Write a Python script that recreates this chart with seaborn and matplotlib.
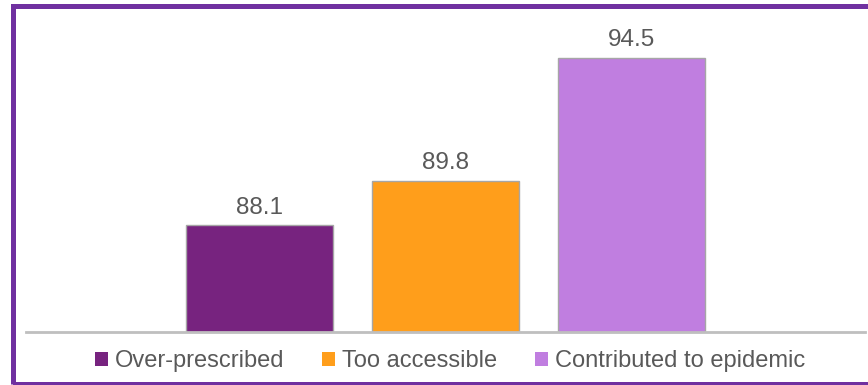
import matplotlib
matplotlib.use("Agg")
import matplotlib.pyplot as plt
import seaborn as sns
import pandas as pd
from matplotlib.patches import Rectangle, Patch

categories = ["Over-prescribed", "Too accessible", "Contributed to epidemic"]
values = [88.1, 89.8, 94.5]
colors = ["#77237F", "#FF9E1B", "#C07EE0"]

sns.set_theme(style="white")
plt.rcParams['font.family'] = ['Liberation Sans', 'DejaVu Sans']

W, H = 868, 385
fig = plt.figure(figsize=(W / 100, H / 100), dpi=100)
ax = fig.add_axes([26 / W, 1 - 332.3 / H, (865 - 26) / W, (332.3 - 18.5) / H])

df = pd.DataFrame({"cat": categories, "val": values})
sns.barplot(data=df, x="cat", y="val", hue="cat", palette=colors, ax=ax,
            width=0.79, edgecolor="#A6A6A6", linewidth=1, legend=False,
            saturation=1)

ax.set_ylim(84, 96)
ax.set_xlim(-1.255, 3.255)
ax.set_xlabel("")
ax.set_ylabel("")
ax.set_xticks([])
ax.set_yticks([])
for s in ["left", "right", "top"]:
    ax.spines[s].set_visible(False)
ax.spines["bottom"].set_color("#BFBFBF")
ax.spines["bottom"].set_linewidth(2)
ax.patch.set_alpha(0)

for i, v in enumerate(values):
    ax.annotate(f"{v}", (i, v), xytext=(0, 4.5), textcoords="offset points",
                ha="center", va="bottom", fontsize=17.5, color="#595959")

handles = [Patch(facecolor=c, edgecolor="none") for c in colors]
fig.legend(handles, categories, loc="center", bbox_to_anchor=(450 / W, 1 - 361 / H),
           ncol=3, frameon=False, fontsize=17, labelcolor="#595959",
           handlelength=0.55, handleheight=0.55, handletextpad=0.3, columnspacing=1.6)

# purple frame
purple = "#7030A0"
fig.patches.append(Rectangle((12.5 / W, 1 - 383.5 / H), (W + 20) / W, (383.5 - 6) / H,
                             transform=fig.transFigure, fill=False,
                             edgecolor=purple, linewidth=3.6, zorder=10))

fig.savefig("out.png", dpi=100, facecolor="white")
